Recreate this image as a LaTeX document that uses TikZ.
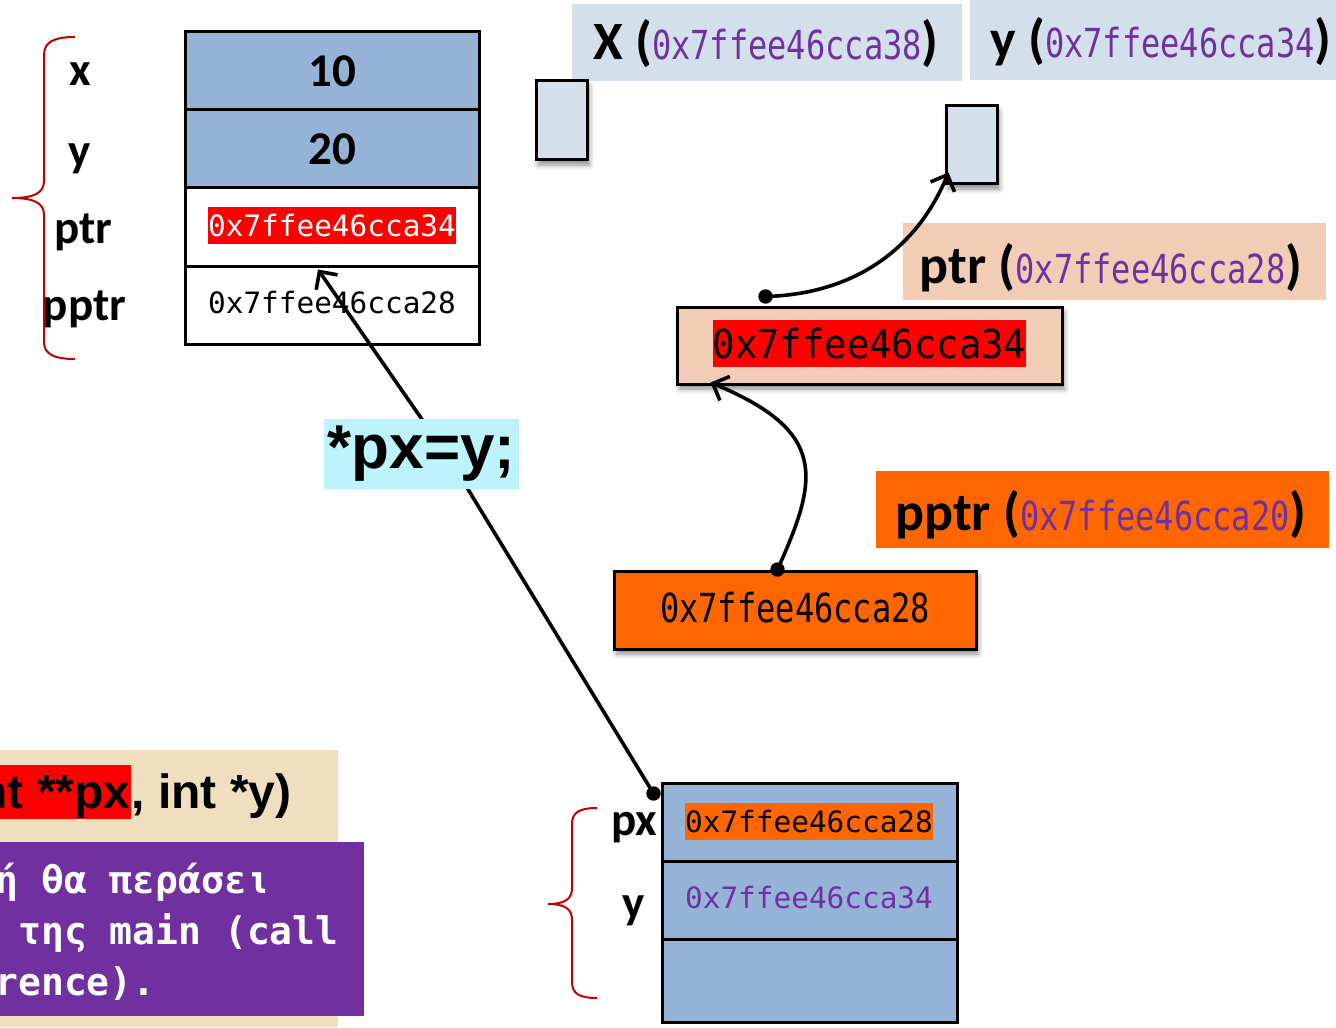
\documentclass[tikz,border=0pt]{standalone}
\usepackage{fontspec}
\setmainfont{Carlito}
\newfontfamily\monofont{DejaVu Sans Mono}
\newfontfamily\condmono[FakeStretch=0.8]{DejaVu Sans Mono}
\newfontfamily\widemono[FakeStretch=0.93]{DejaVu Sans Mono}
\newfontfamily\arialfont{Liberation Sans}
\usetikzlibrary{arrows.meta,shadows.blur,calc}

\definecolor{cellblue}{HTML}{95B3D7}
\definecolor{paleblue}{HTML}{D3DFEA}
\definecolor{peach}{HTML}{F0CDB4}
\definecolor{hotorange}{HTML}{FF6600}
\definecolor{addrpurple}{HTML}{7030A0}
\definecolor{codecyan}{HTML}{BDF3FC}
\definecolor{sand}{HTML}{EFDFBF}
\definecolor{bracered}{HTML}{C00000}

\newcommand{\addrtxt}[1]{{\condmono\mdseries\fontsize{20}{24}\selectfont\color{addrpurple}#1}}

\tikzset{
  cell/.style={draw=black, line width=1.5pt, inner sep=0pt,
    minimum width=147pt, minimum height=39pt},
  numfont/.style={font=\fontsize{23.5}{28}\selectfont\bfseries},
  namefont/.style={font=\fontsize{23.5}{28}\selectfont\bfseries, inner sep=0pt},
  smallmono/.style={font=\monofont\fontsize{14.7}{18}\selectfont, inner sep=0pt},
  hilite/.style={inner xsep=0pt, inner ysep=1.5pt, text height=13pt, text depth=2.5pt},
  bracepath/.style={draw=bracered, line width=1pt},
  labbg/.style={inner sep=0pt, draw=none},
  labtext/.style={anchor=base, inner sep=0pt, font=\fontsize{27}{32}\selectfont\bfseries},
  boxshadow/.style={blur shadow={shadow xshift=1.2pt, shadow yshift=-2.5pt,
    shadow blur radius=2.5pt, shadow opacity=45}},
  membox/.style={draw=black, line width=1.5pt, inner sep=0pt, boxshadow},
  ptrarrow/.style={line width=1.8pt, line join=round, -{Straight Barb[length=6.5pt, width=13pt]}},
  sigfont/.style={font=\arialfont\bfseries\fontsize{24}{29}\selectfont},
  greekline/.style={anchor=base west, inner sep=0pt, text=white,
    font=\monofont\bfseries\fontsize{19}{23}\selectfont},
}

\begin{document}
\begin{tikzpicture}[x=0.5pt, y=-0.5pt]
\useasboundingbox (0,0) rectangle (1336,1027);
\clip (0,0) rectangle (1336,1027);

% ---------- frame of main: x, y, ptr, pptr ----------
\node[cell, fill=cellblue, numfont] (cx) at (332,71) {10};
\node[cell, fill=cellblue, numfont] (cy) at (332,149) {20};
\node[cell, fill=white] (ptrcell) at (332,227) {};
\node[cell, fill=white] (pptrcell) at (332,305) {};
\node[smallmono, hilite, fill=red, text=white, anchor=base] (ptrval) at (332,236) {0x7ffee46cca34};
\node[smallmono, anchor=base] (pptrval) at (332,313) {0x7ffee46cca28};

\node[namefont] (nx) at (80,74) {x};
\node[namefont] (ny) at (79.5,159) {y};
\node[namefont] (nptr) at (83.5,232) {ptr};
\node[namefont] (npptr) at (84.5,309) {pptr};

\path[bracepath] (75,37) .. controls (54,37) and (44,42) .. (44,55) -- (44,181)
  .. controls (44,193) and (34,198) .. (12,198)
  .. controls (34,198) and (44,203) .. (44,215) -- (44,342)
  .. controls (44,354) and (54,359) .. (75,359);

% ---------- variable labels and cells on the right ----------
\node[labbg, fill=paleblue, minimum width=195pt, minimum height=38.5pt] (xbg) at (767,42.5) {};
\node[labtext] (xlab) at (766,60) {X (\addrtxt{0x7ffee46cca38})};
\node[labbg, fill=paleblue, minimum width=183pt, minimum height=40pt] (ybg) at (1153,40) {};
\node[labtext] (ylab) at (1161,58) {y (\addrtxt{0x7ffee46cca34})};

\node[membox, fill=paleblue, minimum width=25.5pt, minimum height=39.5pt] (xsmall) at (561.5,120.5) {};
\node[membox, fill=paleblue, minimum width=25.5pt, minimum height=39pt] (ysmall) at (971.5,145) {};

\node[labbg, fill=peach, minimum width=211.5pt, minimum height=38.5pt] (ptrbg) at (1114.5,261.5) {};
\node[labtext] (ptrlab) at (1111,283) {ptr (\addrtxt{0x7ffee46cca28})};

\node[membox, fill=peach, minimum width=192.5pt, minimum height=38.5pt] (ptrbox) at (869.5,345.5) {};
\node[anchor=base, fill=red, inner xsep=0pt, inner ysep=1.5pt, text height=17.5pt, text depth=3pt,
  font=\widemono\fontsize{20}{24}\selectfont] (ptrboxval) at (869.5,358) {0x7ffee46cca34};

\node[labbg, fill=hotorange, minimum width=226.5pt, minimum height=38.5pt] (pptrbg) at (1102.5,509.5) {};
\node[labtext] (pptrlab) at (1101,530) {pptr (\addrtxt{0x7ffee46cca20})};

\node[membox, fill=hotorange, minimum width=181pt, minimum height=39pt] (pptrbox) at (795,610) {};
\node[anchor=base, inner sep=0pt, font=\condmono\fontsize{20}{24}\selectfont] (pptrboxval) at (795,622) {0x7ffee46cca28};

% ---------- frame of the called function: px, y ----------
\node[cell, fill=cellblue, minimum width=147.5pt] (pxcell) at (809.5,822) {};
\node[cell, fill=cellblue, minimum width=147.5pt] (ycell) at (809.5,900) {};
\node[cell, fill=cellblue, minimum width=147.5pt, minimum height=41.5pt] (emptycell) at (809.5,980.5) {};
\node[smallmono, hilite, fill=hotorange, anchor=base] (pxval) at (809,832) {0x7ffee46cca28};
\node[smallmono, anchor=base, text=addrpurple] (yval) at (809,908) {0x7ffee46cca34};

\node[namefont] (npx) at (634,828) {px};
\node[namefont] (nyy) at (634,911) {y};

\path[bracepath] (597,808) .. controls (580,808) and (572,812) .. (572,824) -- (572,888)
  .. controls (572,899) and (565,904) .. (548,904)
  .. controls (565,904) and (572,909) .. (572,920) -- (572,982)
  .. controls (572,994) and (580,998) .. (597,998);

% ---------- signature and note ----------
\node[labbg, fill=sand, minimum width=169pt, minimum height=138.5pt, anchor=north west] (sigbg) at (0,750) {};
\node[anchor=base east, fill=red, inner xsep=0pt, inner ysep=0pt, text height=21.5pt, text depth=5.5pt,
  sigfont] (sigA) at (131,808) {int **px};
\node[anchor=base west, inner sep=0pt, sigfont] (sigB) at (131,808) {, int *y)};

\node[labbg, fill=addrpurple, minimum width=182pt, minimum height=87pt, anchor=north west] (notebg) at (0,842) {};
\node[greekline] (note1) at (-5,893) {ή θα περάσει};
\node[greekline] (note2) at (-5,944) {\ της main (call};
\node[greekline] (note3) at (-5,995) {rence).};

% ---------- pointer connectors ----------
\coordinate (stmtc) at (421.5,454);
\coordinate (d1) at ($(pxcell.north west)+(-7,12)$);
\coordinate (bend) at ($(stmtc)+(28,5)$);
\coordinate (t1) at ($(ptrcell.south)+(-14,2)$);
\coordinate (d2) at ($(ptrbox.north west)+(90,-9)$);
\coordinate (t2) at ($(ysmall.south west)+(4,-13)$);
\coordinate (d3) at ($(pptrbox.north west)+(165,0)$);
\coordinate (t3) at ($(ptrbox.south west)+(35,-3)$);

\draw[ptrarrow] (d1) -- (bend) -- (t1);
\draw[ptrarrow] (d2) .. controls +(80,-2) and +(-35,84) .. (t2);
\draw[ptrarrow] (d3) .. controls +(41,-91) and +(118,49) .. (t3);
\fill (d1) circle[radius=3.6pt];
\fill (d2) circle[radius=3.6pt];
\fill (d3) circle[radius=3.6pt];

% statement label, laid over the pointer from px
\node[fill=codecyan, inner sep=0pt, minimum width=97.5pt, minimum height=35pt,
  font=\arialfont\bfseries\fontsize{31}{37}\selectfont] (stmt) at (stmtc) {*px=y;};
\end{tikzpicture}
\end{document}
